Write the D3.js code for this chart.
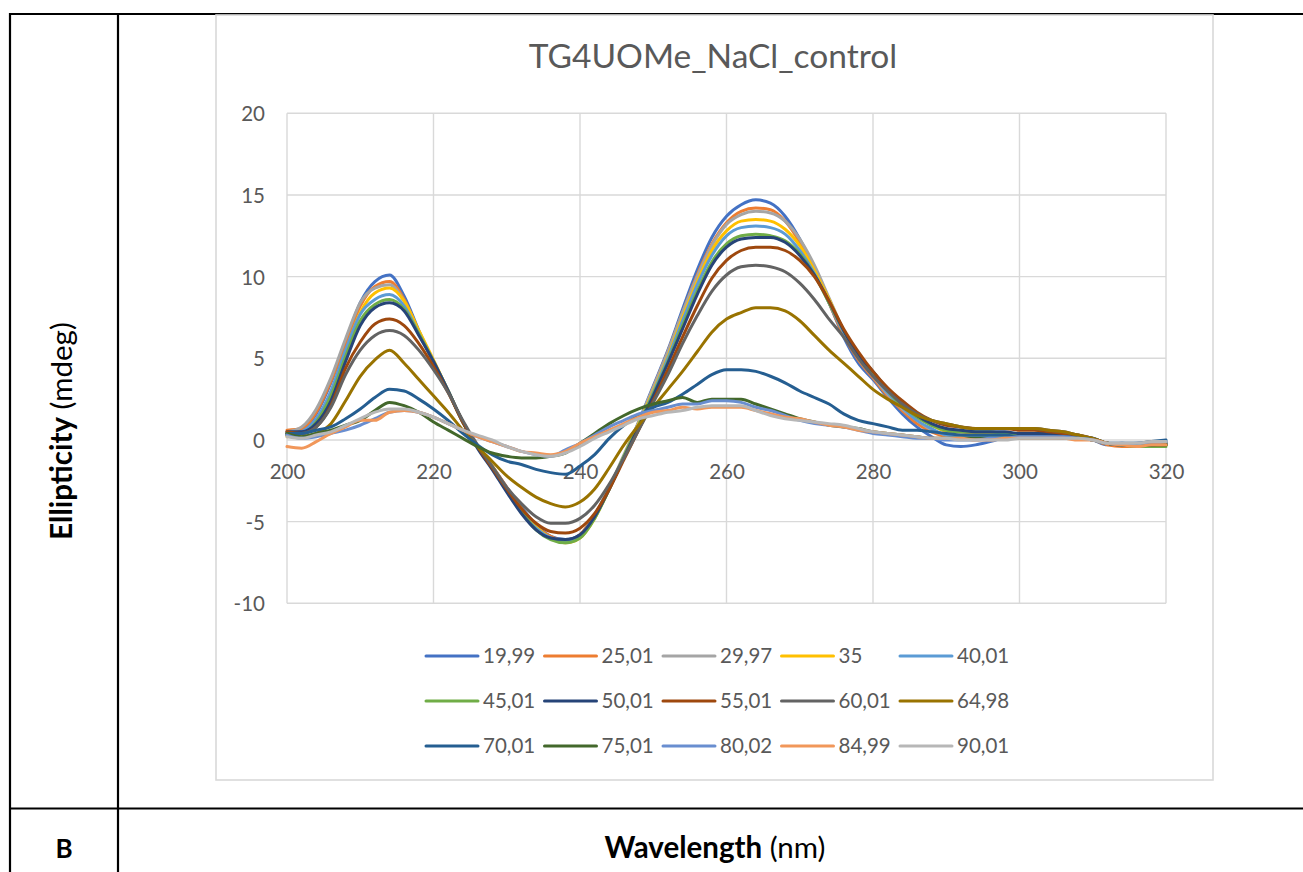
<!DOCTYPE html>
<html>
<head>
<meta charset="utf-8">
<script src="https://cdn.jsdelivr.net/npm/d3@7"></script>
<style>
  html, body { margin: 0; padding: 0; background: #fff; }
  svg { display: block; }
  text { font-family: Lato, "Noto Sans", sans-serif; }
</style>
</head>
<body>
<svg id="chart" width="1303" height="872"></svg>
<script>
// CD spectra: ellipticity (mdeg) vs wavelength (nm), one trace per temperature (°C)
const wavelengths = d3.range(200, 321, 2);

const seriesNames = ["19,99", "25,01", "29,97", "35", "40,01",
                     "45,01", "50,01", "55,01", "60,01", "64,98",
                     "70,01", "75,01", "80,02", "84,99", "90,01"];

const seriesColors = ["#4472C4", "#ED7D31", "#A5A5A5", "#FFC000", "#5B9BD5",
                      "#70AD47", "#264478", "#9E480E", "#636363", "#997300",
                      "#255E91", "#43682B", "#698ED0", "#F1975A", "#B7B7B7"];

// values every 2 nm, 200 … 320 nm
const t19_99 = [
  0.4, 0.6, 1.6, 3.5, 6.0, 8.4, 9.7, 10.1, 8.8, 6.7,
  4.8, 3.0, 1.1, -0.4, -1.6, -2.9, -4.1, -5.2, -5.9, -6.1,
  -5.8, -4.6, -2.9, -1.0, 1.1, 3.3, 5.5, 8.0, 10.4, 12.4,
  13.7, 14.4, 14.7, 14.5, 13.7, 12.3, 10.5, 8.4, 6.3, 4.7,
  3.7, 2.6, 1.6, 0.8, 0.2, -0.3, -0.4, -0.3, -0.1, 0.1,
  0.1, 0.2, 0.2, 0.1, 0.1, 0.0, -0.3, -0.2, -0.3, -0.2,
  -0.1];
const t25_01 = [
  0.6, 0.7, 1.7, 3.6, 5.9, 8.2, 9.4, 9.7, 8.6, 6.6,
  4.8, 3.0, 1.1, -0.4, -1.6, -2.9, -4.2, -5.3, -5.9, -6.2,
  -5.8, -4.6, -3.0, -1.0, 1.0, 3.2, 5.4, 7.8, 10.1, 12.0,
  13.3, 14.0, 14.2, 14.1, 13.4, 12.1, 10.4, 8.4, 6.4, 4.9,
  3.8, 2.7, 1.8, 1.0, 0.5, 0.2, 0.1, 0.1, 0.1, 0.2,
  0.2, 0.2, 0.2, 0.1, 0.1, 0.0, -0.3, -0.4, -0.4, -0.4,
  -0.3];
const t29_97 = [
  0.5, 0.8, 1.9, 3.8, 6.2, 8.4, 9.3, 9.5, 8.5, 6.6,
  4.8, 3.0, 1.1, -0.4, -1.7, -3.0, -4.3, -5.4, -6.0, -6.3,
  -5.9, -4.6, -2.9, -0.9, 1.1, 3.2, 5.4, 7.8, 10.0, 11.9,
  13.2, 13.8, 14.0, 13.9, 13.4, 12.3, 10.7, 8.7, 6.7, 5.0,
  3.9, 2.8, 1.9, 1.2, 0.6, 0.3, 0.2, 0.2, 0.2, 0.2,
  0.2, 0.2, 0.2, 0.1, 0.1, 0.0, -0.2, -0.2, -0.2, -0.1,
  -0.1];
const t35 = [
  0.2, 0.4, 1.2, 2.9, 5.4, 7.8, 9.0, 9.3, 8.5, 6.7,
  4.9, 3.0, 1.1, -0.4, -1.6, -3.0, -4.2, -5.3, -6.0, -6.3,
  -6.0, -4.8, -3.0, -1.0, 1.0, 3.0, 5.1, 7.5, 9.7, 11.6,
  12.8, 13.4, 13.5, 13.4, 12.9, 11.9, 10.4, 8.6, 6.7, 5.2,
  4.1, 3.0, 2.1, 1.4, 0.9, 0.5, 0.3, 0.4, 0.4, 0.4,
  0.3, 0.3, 0.2, 0.2, 0.1, 0.0, -0.2, -0.3, -0.3, -0.3,
  -0.2];
const t40_01 = [
  0.3, 0.5, 1.3, 3.0, 5.5, 7.7, 8.6, 8.9, 8.2, 6.5,
  4.8, 3.0, 1.1, -0.4, -1.7, -3.1, -4.4, -5.4, -6.0, -6.2,
  -5.9, -4.7, -3.0, -1.0, 0.9, 2.9, 5.0, 7.3, 9.5, 11.3,
  12.5, 13.0, 13.1, 13.0, 12.6, 11.6, 10.2, 8.4, 6.6, 5.1,
  4.0, 2.9, 2.0, 1.2, 0.7, 0.3, 0.2, 0.2, 0.2, 0.2,
  0.2, 0.2, 0.2, 0.1, 0.1, 0.0, -0.2, -0.3, -0.3, -0.3,
  -0.2];
const t45_01 = [
  0.4, 0.4, 1.1, 2.7, 5.1, 7.3, 8.3, 8.6, 8.0, 6.5,
  4.8, 3.0, 1.1, -0.4, -1.7, -3.1, -4.4, -5.5, -6.1, -6.3,
  -6.0, -4.8, -3.0, -1.0, 0.9, 2.8, 4.8, 7.0, 9.1, 10.9,
  12.0, 12.5, 12.6, 12.5, 12.2, 11.4, 10.1, 8.4, 6.7, 5.2,
  4.1, 3.0, 2.1, 1.4, 0.9, 0.6, 0.5, 0.5, 0.5, 0.4,
  0.4, 0.4, 0.4, 0.3, 0.2, 0.1, -0.2, -0.3, -0.4, -0.4,
  -0.4];
const t50_01 = [
  0.5, 0.5, 1.0, 2.4, 4.8, 7.0, 8.1, 8.4, 7.9, 6.4,
  4.8, 3.0, 1.1, -0.5, -1.8, -3.2, -4.5, -5.5, -6.0, -6.1,
  -5.8, -4.7, -3.0, -1.1, 0.8, 2.7, 4.7, 6.8, 8.9, 10.7,
  11.8, 12.3, 12.4, 12.4, 12.1, 11.3, 10.1, 8.5, 6.7, 5.2,
  4.2, 3.1, 2.2, 1.5, 1.0, 0.7, 0.6, 0.5, 0.5, 0.5,
  0.4, 0.4, 0.4, 0.3, 0.2, 0.1, -0.2, -0.3, -0.3, -0.3,
  -0.2];
const t55_01 = [
  0.5, 0.4, 0.8, 2.1, 4.4, 6.0, 7.1, 7.4, 7.0, 5.9,
  4.5, 2.9, 1.1, -0.4, -1.7, -3.0, -4.2, -5.1, -5.6, -5.7,
  -5.4, -4.5, -3.0, -1.2, 0.6, 2.4, 4.3, 6.3, 8.2, 9.9,
  11.0, 11.6, 11.8, 11.8, 11.6, 11.0, 10.0, 8.5, 6.8, 5.4,
  4.2, 3.2, 2.4, 1.7, 1.2, 0.9, 0.8, 0.7, 0.7, 0.7,
  0.6, 0.6, 0.5, 0.4, 0.3, 0.1, -0.2, -0.3, -0.3, -0.3,
  -0.3];
const t60_01 = [
  0.4, 0.4, 0.8, 2.0, 4.0, 5.5, 6.4, 6.7, 6.4, 5.5,
  4.3, 2.9, 1.2, -0.3, -1.6, -2.9, -3.9, -4.7, -5.1, -5.1,
  -4.8, -4.0, -2.7, -1.1, 0.6, 2.3, 4.0, 5.9, 7.6, 9.1,
  10.1, 10.6, 10.7, 10.6, 10.3, 9.6, 8.6, 7.4, 6.3, 5.0,
  3.9, 3.0, 2.2, 1.6, 1.2, 1.0, 0.8, 0.7, 0.7, 0.7,
  0.7, 0.7, 0.6, 0.5, 0.3, 0.1, -0.2, -0.3, -0.3, -0.3,
  -0.3];
const t64_98 = [
  0.3, 0.2, 0.4, 1.0, 2.4, 3.9, 4.9, 5.5, 4.7, 3.7,
  2.7, 1.7, 0.6, -0.4, -1.3, -2.2, -2.9, -3.5, -3.9, -4.1,
  -3.8, -3.0, -1.7, -0.3, 0.9, 2.0, 3.1, 4.2, 5.4, 6.6,
  7.4, 7.8, 8.1, 8.1, 7.9, 7.3, 6.4, 5.5, 4.7, 3.9,
  3.1, 2.5, 2.0, 1.5, 1.2, 1.0, 0.8, 0.7, 0.7, 0.7,
  0.7, 0.7, 0.6, 0.5, 0.3, 0.1, -0.2, -0.3, -0.3, -0.3,
  -0.3];
const t70_01 = [
  0.4, 0.4, 0.6, 0.8, 1.3, 1.9, 2.6, 3.1, 3.0, 2.5,
  1.9, 1.2, 0.4, -0.3, -0.9, -1.3, -1.5, -1.8, -2.0, -2.1,
  -1.6, -0.9, 0.1, 0.9, 1.5, 2.0, 2.3, 2.8, 3.4, 4.0,
  4.3, 4.3, 4.2, 3.9, 3.5, 3.0, 2.6, 2.2, 1.6, 1.2,
  1.0, 0.8, 0.6, 0.6, 0.5, 0.4, 0.3, 0.3, 0.3, 0.3,
  0.2, 0.2, 0.2, 0.2, 0.1, 0.0, -0.2, -0.2, -0.2, -0.1,
  0.0];
const t75_01 = [
  0.4, 0.2, 0.4, 0.6, 0.9, 1.2, 1.8, 2.3, 2.1, 1.7,
  1.1, 0.6, 0.1, -0.4, -0.8, -1.0, -1.1, -1.1, -1.0, -0.8,
  -0.2, 0.4, 1.0, 1.5, 1.9, 2.2, 2.4, 2.6, 2.3, 2.5,
  2.5, 2.5, 2.2, 1.9, 1.6, 1.3, 1.1, 0.9, 0.8, 0.7,
  0.5, 0.4, 0.3, 0.2, 0.1, 0.1, 0.1, 0.1, 0.1, 0.1,
  0.1, 0.1, 0.1, 0.1, 0.1, 0.0, -0.2, -0.3, -0.3, -0.3,
  -0.3];
const t80_02 = [
  0.3, 0.1, 0.2, 0.4, 0.6, 0.9, 1.3, 1.7, 1.8, 1.7,
  1.4, 1.0, 0.6, 0.2, -0.1, -0.4, -0.7, -0.9, -1.0, -0.6,
  -0.2, 0.3, 0.8, 1.2, 1.6, 1.8, 2.0, 2.2, 2.2, 2.4,
  2.4, 2.3, 2.0, 1.8, 1.5, 1.2, 1.0, 0.9, 0.8, 0.6,
  0.4, 0.3, 0.2, 0.1, 0.1, 0.0, 0.0, 0.0, 0.1, 0.1,
  0.2, 0.2, 0.2, 0.2, 0.1, 0.0, -0.2, -0.3, -0.2, -0.2,
  -0.1];
const t84_99 = [
  -0.4, -0.5, -0.1, 0.4, 0.8, 1.2, 1.2, 1.7, 1.8, 1.7,
  1.4, 1.0, 0.6, 0.2, -0.1, -0.4, -0.7, -0.8, -0.9, -0.7,
  -0.2, 0.2, 0.6, 1.0, 1.4, 1.7, 1.8, 2.0, 1.9, 2.0,
  2.0, 2.0, 1.8, 1.6, 1.4, 1.3, 1.1, 0.9, 0.8, 0.6,
  0.5, 0.4, 0.3, 0.2, 0.1, 0.1, 0.1, 0.0, 0.0, 0.1,
  0.1, 0.1, 0.1, 0.1, 0.0, 0.0, -0.2, -0.3, -0.4, -0.3,
  -0.3];
const t90_01 = [
  0.2, 0.1, 0.3, 0.5, 0.9, 1.3, 1.7, 1.9, 1.9, 1.7,
  1.4, 1.0, 0.6, 0.3, 0.0, -0.4, -0.7, -0.9, -1.0, -0.8,
  -0.4, 0.1, 0.5, 0.9, 1.3, 1.5, 1.7, 1.8, 2.0, 2.1,
  2.1, 2.1, 1.8, 1.5, 1.3, 1.2, 1.1, 1.0, 0.9, 0.7,
  0.5, 0.4, 0.3, 0.2, 0.1, 0.1, 0.0, 0.0, 0.0, 0.0,
  0.1, 0.1, 0.1, 0.1, 0.1, 0.0, -0.2, -0.2, -0.2, -0.1,
  -0.1];

const seriesValues = [t19_99, t25_01, t29_97, t35, t40_01, t45_01, t50_01, t55_01,
                      t60_01, t64_98, t70_01, t75_01, t80_02, t84_99, t90_01];

const xTicks = [200, 220, 240, 260, 280, 300, 320];
const yTicks = [-10, -5, 0, 5, 10, 15, 20];

const chartTitle = "TG4UOMe_NaCl_control";

const svg = d3.select("#chart");
const W = 1303, H = 872;
const textGray = "#595959";
const gridGray = "#d9d9d9";

// ---- surrounding table rules ----
const rules = svg.append("g").attr("stroke", "#000").attr("stroke-width", 2.2);
rules.append("line").attr("x1", 9).attr("x2", W).attr("y1", 14).attr("y2", 14);
rules.append("line").attr("x1", 9).attr("x2", W).attr("y1", 808.5).attr("y2", 808.5);
rules.append("line").attr("x1", 10).attr("x2", 10).attr("y1", 13).attr("y2", H);
rules.append("line").attr("x1", 118).attr("x2", 118).attr("y1", 13).attr("y2", H);

// ---- chart frame ----
svg.append("rect")
  .attr("x", 216).attr("y", 15).attr("width", 997).attr("height", 765)
  .attr("fill", "#fff").attr("stroke", gridGray).attr("stroke-width", 1.6);

// ---- scales ----
const x = d3.scaleLinear().domain([200, 320]).range([287, 1166]);
const y = d3.scaleLinear().domain([-10, 20]).range([603.3, 113.3]);

// ---- gridlines ----
const grid = svg.append("g").attr("stroke", gridGray).attr("stroke-width", 1.4);
grid.selectAll("line.h").data(yTicks).join("line")
  .attr("class", "h")
  .attr("x1", x(200)).attr("x2", x(320))
  .attr("y1", d => y(d)).attr("y2", d => y(d));
grid.selectAll("line.v").data(xTicks).join("line")
  .attr("class", "v")
  .attr("x1", d => x(d)).attr("x2", d => x(d))
  .attr("y1", y(20)).attr("y2", y(-10));

// ---- axes (labels only; x labels sit under the zero line) ----
const plainNum = d => String(d);

const yAxis = d3.axisLeft(y).tickValues(yTicks).tickFormat(plainNum).tickSize(0).tickPadding(0);
const gy = svg.append("g").attr("transform", `translate(${x(200) - 22},0)`).call(yAxis);
gy.select(".domain").remove();
gy.selectAll("text")
  .attr("fill", textGray).attr("font-size", 20.5)
  .attr("font-family", "Lato, 'Noto Sans', sans-serif")
  .attr("dy", "0.36em");

const xAxis = d3.axisBottom(x).tickValues(xTicks).tickFormat(plainNum).tickSize(0).tickPadding(0);
const gx = svg.append("g").attr("transform", `translate(0,${y(0) + 24})`).call(xAxis);
gx.select(".domain").remove();
gx.selectAll("text")
  .attr("fill", textGray).attr("font-size", 20.5)
  .attr("font-family", "Lato, 'Noto Sans', sans-serif")
  .attr("dy", "0.71em");

// ---- series ----
const line = d3.line()
  .x((d, i) => x(wavelengths[i]))
  .y(d => y(d))
  .curve(d3.curveMonotoneX);

svg.append("g").selectAll("path").data(seriesValues).join("path")
  .attr("d", d => line(d))
  .attr("fill", "none")
  .attr("stroke", (d, i) => seriesColors[i])
  .attr("stroke-width", 3)
  .attr("stroke-linejoin", "round")
  .attr("stroke-linecap", "round");

// ---- title ----
svg.append("text")
  .attr("x", 713).attr("y", 68)
  .attr("text-anchor", "middle")
  .attr("fill", textGray).attr("font-size", 33.5)
  .text(chartTitle);

// ---- legend: 5 columns x 3 rows ----
const legend = svg.append("g");
const colX = [425, 543.5, 662, 780.5, 899];
const rowY = [656, 701, 746];
const items = legend.selectAll("g").data(seriesNames).join("g")
  .attr("transform", (d, i) => `translate(${colX[i % 5]},${rowY[Math.floor(i / 5)]})`);
items.append("line")
  .attr("x1", 1).attr("x2", 53).attr("y1", 0).attr("y2", 0)
  .attr("stroke", (d, i) => seriesColors[i])
  .attr("stroke-width", 3).attr("stroke-linecap", "round");
items.append("text")
  .attr("x", 58).attr("y", 0).attr("dy", "0.36em")
  .attr("fill", textGray).attr("font-size", 20.5)
  .text(d => d);

// ---- axis titles in the table cells ----
const xTitle = svg.append("text")
  .attr("x", 715).attr("y", 858)
  .attr("text-anchor", "middle")
  .attr("fill", "#000").attr("font-size", 29.5);
xTitle.append("tspan").attr("font-weight", "bold").text("Wavelength");
xTitle.append("tspan").text(" (nm)");

const yTitle = svg.append("text")
  .attr("transform", "translate(72,431) rotate(-90)")
  .attr("text-anchor", "middle")
  .attr("fill", "#000").attr("font-size", 29.5);
yTitle.append("tspan").attr("font-weight", "bold").text("Ellipticity");
yTitle.append("tspan").text(" (mdeg)");

svg.append("text")
  .attr("x", 64).attr("y", 858)
  .attr("text-anchor", "middle")
  .attr("font-weight", "bold")
  .attr("fill", "#000").attr("font-size", 26)
  .text("B");
</script>
</body>
</html>
